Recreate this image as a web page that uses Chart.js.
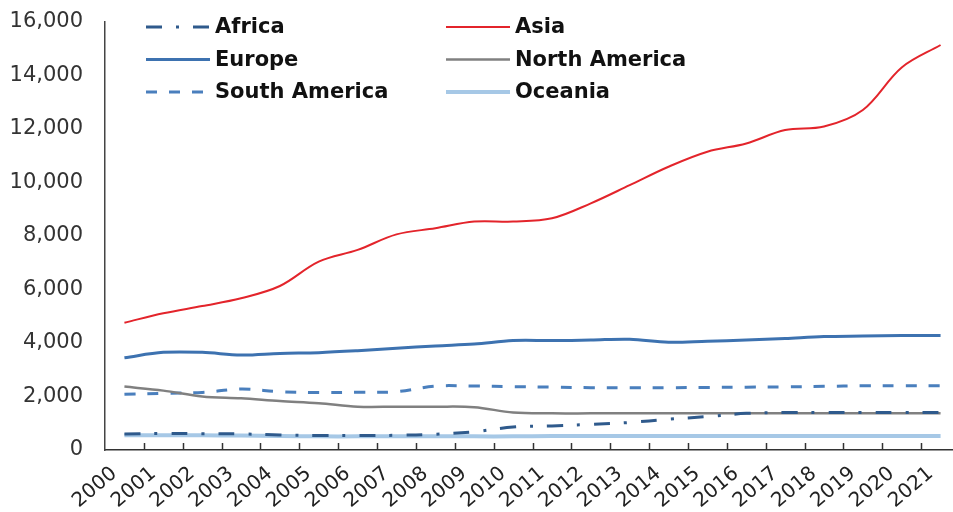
<!DOCTYPE html>
<html>
<head>
<meta charset="utf-8">
<script src="https://cdn.jsdelivr.net/npm/chart.js@4"></script>
<style>
  html, body { margin: 0; padding: 0; background: #fff; overflow: hidden; }
  #wrap { width: 960px; height: 512px; }
</style>
</head>
<body>
<div id="wrap"><canvas id="regionChart"></canvas></div>
<script>
// data
const years = ['2000', '2001', '2002', '2003', '2004', '2005', '2006', '2007', '2008', '2009', '2010',
    '2011', '2012', '2013', '2014', '2015', '2016', '2017', '2018', '2019', '2020', '2021'];
const africa = [600, 620, 610, 600, 560, 540, 540, 550, 590, 680, 860, 900, 960, 1030, 1150, 1250, 1370, 1400, 1400, 1400, 1400, 1400];
const asia = [4760, 5110, 5380, 5670, 6130, 7040, 7480, 8060, 8290, 8540, 8540, 8660, 9220, 9900, 10590, 11150, 11460, 11960, 12090, 12710, 14300, 15140];
const europe = [3450, 3650, 3650, 3550, 3610, 3640, 3710, 3800, 3890, 3960, 4090, 4090, 4110, 4140, 4030, 4070, 4110, 4170, 4240, 4260, 4280, 4280];
const northAmerica = [2370, 2220, 2000, 1930, 1830, 1750, 1620, 1620, 1620, 1600, 1400, 1370, 1370, 1370, 1370, 1370, 1370, 1370, 1370, 1370, 1370, 1370];
const southAmerica = [2080, 2120, 2150, 2280, 2180, 2150, 2160, 2180, 2390, 2390, 2370, 2350, 2330, 2330, 2330, 2340, 2350, 2360, 2380, 2400, 2400, 2400];
const oceania = [550, 550, 550, 540, 520, 510, 510, 510, 510, 510, 510, 520, 520, 520, 520, 520, 520, 520, 520, 520, 520, 520];
const yTicks = [0, 2000, 4000, 6000, 8000, 10000, 12000, 14000, 16000];

// legend in two columns inside the plot area
const gridLegend = {
    id: 'gridLegend',
    afterDraw(chart) {
        const ctx = chart.ctx;
        ctx.save();
        ctx.font = 'bold 21px "DejaVu Sans"';
        ctx.textBaseline = 'middle';
        chart.data.datasets.forEach((ds, i) => {
            const x = 146 + (i % 2) * 300;
            const y = 27 + Math.floor(i / 2) * 32.5;
            ctx.beginPath();
            ctx.strokeStyle = ds.borderColor;
            ctx.lineWidth = ds.borderWidth;
            ctx.setLineDash(ds.borderDash || []);
            ctx.moveTo(x, y);
            ctx.lineTo(x + 64, y);
            ctx.stroke();
            ctx.setLineDash([]);
            ctx.fillStyle = '#111';
            ctx.fillText(ds.label, x + 69, y + 1);
        });
        ctx.restore();
    }
};

// small tick marks between categories, pointing up into the plot
const innerTicks = {
    id: 'innerTicks',
    afterDraw(chart) {
        const xs = chart.scales.x;
        const ctx = chart.ctx;
        ctx.save();
        ctx.strokeStyle = '#333';
        ctx.lineWidth = 1.5;
        for (let i = 1; i < years.length; i++) {
            const px = Math.round((xs.getPixelForValue(i - 1) + xs.getPixelForValue(i)) / 2) + 0.5;
            ctx.beginPath();
            ctx.moveTo(px, xs.top - 7);
            ctx.lineTo(px, xs.top);
            ctx.stroke();
        }
        ctx.restore();
    }
};

function line(label, data, color, width, dash) {
    return {
        label: label,
        data: data,
        borderColor: color,
        backgroundColor: color,
        borderWidth: width,
        borderDash: dash,
        pointRadius: 0,
        tension: 0.35,
        fill: false
    };
}

const ctx = document.getElementById('regionChart').getContext('2d');
const chart = new Chart(ctx, {
    type: 'line',
    data: {
        labels: years,
        datasets: [
            line('Africa', africa, '#2f5a8c', 3, [16, 14, 3, 14]),
            line('Asia', asia, '#e3242b', 2),
            line('Europe', europe, '#3d72b0', 3),
            line('North America', northAmerica, '#808080', 2.5),
            line('South America', southAmerica, '#4a7fbd', 3, [11, 12]),
            line('Oceania', oceania, '#a6c8e6', 4)
        ]
    },
    options: {
        responsive: true,
        maintainAspectRatio: false,
        animation: false,
        layout: { padding: { top: 22, left: 0, right: 0, bottom: 0 } },
        plugins: {
            legend: { display: false },
            tooltip: { enabled: false }
        },
        scales: {
            x: {
                offset: true,
                grid: { display: false, drawTicks: false },
                border: { color: '#333', width: 1.5 },
                afterFit(scale) {
                    scale.height = 62;
                    scale.paddingRight = 0;
                    scale.paddingLeft = 0;
                },
                ticks: {
                    autoSkip: false,
                    minRotation: 40,
                    maxRotation: 40,
                    padding: 12,
                    labelOffset: -10,
                    color: '#222',
                    font: { family: '"DejaVu Sans"', size: 20 }
                }
            },
            y: {
                min: 0,
                max: 16000,
                afterFit(scale) {
                    scale.width = 105;
                    scale.paddingTop = 0;
                    scale.paddingBottom = 0;
                },
                afterBuildTicks(scale) { scale.ticks = yTicks.map(v => ({ value: v })); },
                grid: { display: false, drawTicks: false },
                border: { color: '#444', width: 1.5 },
                ticks: {
                    padding: 22,
                    color: '#333',
                    font: { family: '"DejaVu Sans"', size: 21 },
                    callback: v => v.toLocaleString('en-US')
                }
            }
        }
    },
    plugins: [gridLegend, innerTicks]
});
</script>
</body>
</html>
